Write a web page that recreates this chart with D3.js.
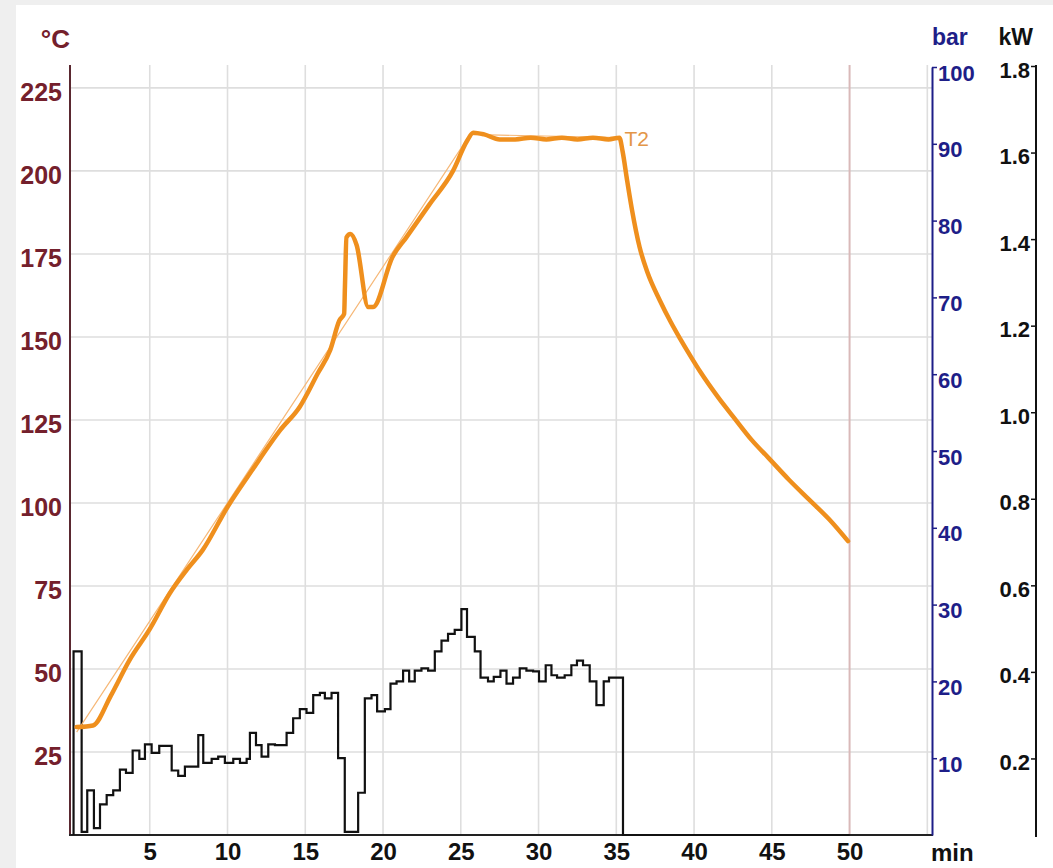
<!DOCTYPE html>
<html>
<head>
<meta charset="utf-8">
<script src="https://cdn.jsdelivr.net/npm/d3@7"></script>
<style>
  html, body { margin: 0; padding: 0; background: #efefef; }
  svg { display: block; }
  text { font-family: "Liberation Sans", Arial, sans-serif; font-weight: bold; }
</style>
</head>
<body>
<svg id="chart" width="1053" height="868"></svg>
<script>
// ---- tick values ----
const minuteTicks = [5, 10, 15, 20, 25, 30, 35, 40, 45, 50];
const minuteGrid = [5, 10, 15, 20, 25, 30, 35, 40, 45, 50, 55];
const tempTicks = [25, 50, 75, 100, 125, 150, 175, 200, 225];
const barTicks = [10, 20, 30, 40, 50, 60, 70, 80, 90, 100];
const kwTicks = [0.2, 0.4, 0.6, 0.8, 1.0, 1.2, 1.4, 1.6, 1.8];
const endMarkMinute = 50;

// ---- T2 temperature trace (min, °C) ----
const t2Minutes = [0.3, 1.35, 2.5, 3.7, 5.0, 6.3, 7.4, 8.4, 10.0, 11.6, 13.4, 14.65, 15.8, 16.6,
  17.2, 17.5, 17.55, 17.65, 17.9, 18.3, 19.05, 19.36, 20.6, 21.5, 23.0, 24.5, 25.4, 25.8,
  26.5, 27.5, 28.5, 29.5, 30.5, 31.5, 32.5, 33.5, 34.5, 35.2,
  35.4, 35.7, 36.0, 36.5, 37.0, 37.8, 38.5, 39.1, 39.8, 40.4, 41.6, 42.6, 43.7, 44.8, 46.1,
  47.4, 48.7, 49.9];
const t2Celsius = [32.5, 33, 42, 52.7, 62, 72.9, 80, 85.8, 98.8, 110, 122, 129, 139, 146,
  155, 157, 165, 180, 181, 177.7, 159, 159, 174, 180, 190, 200, 209, 211.5,
  211, 209.5, 209.5, 210, 209.5, 210, 209.5, 210, 209.5, 210,
  206, 197, 188.5, 177, 169.5, 161, 154.5, 149.5, 144, 139.5, 131.5, 125.5, 119, 113.5, 107,
  101, 95, 88.5];

// ---- programmed temperature ramp (min, °C) ----
const rampMinutes = [0.3, 25.6, 35.2];
const rampCelsius = [31, 211, 210];

// ---- stepped trace (min at start of each step, bar) ----
const stepMinutes = [0.1, 0.62, 0.98, 1.41, 1.80, 2.23, 2.65, 3.08, 3.47, 3.90, 4.33, 4.69, 5.12, 5.61,
  6.41, 6.83, 7.26, 8.12, 8.44, 8.98, 9.40, 9.83, 10.37, 10.80, 11.23, 11.44, 11.83, 12.19,
  12.62, 13.05, 13.80, 14.22, 14.65, 15.08, 15.51, 15.94, 16.26, 16.69, 17.11, 17.54, 18.40,
  18.83, 19.26, 19.62, 20.12, 20.48, 20.87, 21.29, 21.68, 22.04, 22.47, 22.90, 23.33, 23.76,
  24.18, 24.61, 25.04, 25.40, 25.90, 26.27, 26.75, 27.12, 27.55, 27.94, 28.36, 28.79, 29.22,
  29.65, 30.03, 30.46, 30.83, 31.19, 31.68, 32.11, 32.47, 32.86, 33.29, 33.72, 34.19, 34.53, 35.43];
const stepBar = [23.9, 0.4, 5.8, 0.9, 4.0, 5.2, 5.8, 8.5, 8.1, 11.0, 9.9, 11.8, 10.7, 11.6,
  8.4, 7.7, 8.9, 13.0, 9.4, 9.9, 10.2, 9.4, 9.9, 9.4, 9.9, 13.3, 11.7, 10.2,
  11.8, 11.7, 13.3, 15.2, 16.4, 15.9, 18.2, 18.5, 17.8, 18.5, 10.0, 0.4, 5.5,
  17.8, 18.2, 16.1, 16.4, 19.7, 20.0, 21.4, 20.0, 21.4, 21.7, 21.4, 23.9, 25.3,
  26.2, 26.7, 29.4, 25.8, 23.9, 20.5, 20.0, 20.6, 21.4, 19.7, 20.5, 21.7, 21.4,
  21.3, 20.0, 22.1, 20.8, 20.5, 20.8, 22.1, 22.7, 22.1, 20.0, 16.9, 20.0, 20.5, 0];
const stepEndMinute = 50;

// ---- colours ----
const maroon = "#74202c";
const navy = "#1e1e88";
const orange = "#ef8f1d";

const svg = d3.select("#chart");

// panel
svg.append("rect").attr("x", 16).attr("y", 5).attr("width", 1053 - 16).attr("height", 868 - 5)
  .attr("fill", "#ffffff");

// scales
const x = d3.scaleLinear().domain([0, 55.3]).range([72, 932]);
const yT = d3.scaleLinear().domain([0, 231.6]).range([835, 66]);
const yBar = d3.scaleLinear().domain([0, 100]).range([835, 67]);
const yKw = d3.scaleLinear().domain([0, 1.8]).range([845, 66]);

// grid
const grid = svg.append("g");
grid.selectAll("line.h").data(tempTicks).join("line")
  .attr("x1", 70).attr("x2", 932)
  .attr("y1", d => yT(d)).attr("y2", d => yT(d))
  .attr("stroke", "#dedede").attr("stroke-width", 1.6);
grid.selectAll("line.v").data(minuteGrid).join("line")
  .attr("x1", d => x(d)).attr("x2", d => x(d))
  .attr("y1", 65).attr("y2", 835)
  .attr("stroke", d => d === endMarkMinute ? "#d9b9b9" : "#dedede")
  .attr("stroke-width", d => d === endMarkMinute ? 2 : 1.6);

// left axis (°C)
const leftAxis = svg.append("g").attr("transform", "translate(70,0)")
  .call(d3.axisLeft(yT).tickValues(tempTicks).tickSize(0).tickSizeOuter(0).tickPadding(8));
leftAxis.select(".domain").remove();
leftAxis.selectAll("text").attr("dy", null).attr("y", 13)
  .attr("fill", maroon).style("font-size", "25px");
svg.append("line").attr("x1", 70).attr("x2", 70).attr("y1", 65).attr("y2", 836)
  .attr("stroke", "#5a2830").attr("stroke-width", 2);

// bottom axis (min)
const bottomAxis = svg.append("g").attr("transform", "translate(0,835)")
  .call(d3.axisBottom(x).tickValues(minuteTicks).tickSize(0).tickSizeOuter(0));
bottomAxis.select(".domain").remove();
bottomAxis.selectAll("text").attr("dy", null).attr("y", 25)
  .attr("fill", "#111").style("font-size", "24px");
svg.append("line").attr("x1", 69).attr("x2", 933).attr("y1", 835).attr("y2", 835)
  .attr("stroke", "#222").attr("stroke-width", 2);

// right axis (bar)
const barAxis = svg.append("g").attr("transform", "translate(932,0)")
  .call(d3.axisRight(yBar).tickValues(barTicks).tickSize(5).tickSizeOuter(0).tickPadding(1));
barAxis.select(".domain").attr("stroke", navy).attr("stroke-width", 2);
barAxis.selectAll(".tick line").attr("stroke", navy).attr("stroke-width", 1.5);
barAxis.selectAll("text").attr("dy", null).attr("y", 13)
  .attr("fill", navy).style("font-size", "22px");

// far right axis (kW)
const kwAxis = svg.append("g").attr("transform", "translate(1036,0)")
  .call(d3.axisLeft(yKw).tickValues(kwTicks).tickSize(5).tickSizeOuter(0).tickPadding(1)
    .tickFormat(d3.format(".1f")));
kwAxis.select(".domain").remove();
kwAxis.selectAll(".tick line").attr("stroke", "#111").attr("stroke-width", 1.5);
kwAxis.selectAll("text").attr("dy", null).attr("y", 11)
  .attr("fill", "#111").style("font-size", "22px");
svg.append("line").attr("x1", 1036).attr("x2", 1036).attr("y1", 65).attr("y2", 837)
  .attr("stroke", "#111").attr("stroke-width", 2);

// unit labels
svg.append("text").attr("x", 70).attr("y", 48).attr("text-anchor", "end")
  .attr("fill", maroon).style("font-size", "26px").text("°C");
svg.append("text").attr("x", 932).attr("y", 45)
  .attr("fill", navy).style("font-size", "23px").text("bar");
svg.append("text").attr("x", 1033).attr("y", 45).attr("text-anchor", "end")
  .attr("fill", "#111").style("font-size", "23px").text("kW");
svg.append("text").attr("x", 931).attr("y", 861)
  .attr("fill", "#111").style("font-size", "24px").text("min");

// stepped trace
const stepPoints = [[stepMinutes[0], 0]]
  .concat(stepMinutes.map((m, i) => [m, stepBar[i]]))
  .concat([[stepEndMinute, 0]]);
svg.append("path").datum(stepPoints)
  .attr("d", d3.line().x(d => x(d[0])).y(d => yBar(d[1])).curve(d3.curveStepAfter))
  .attr("fill", "none").attr("stroke", "#111").attr("stroke-width", 2.2);

// programmed ramp
const rampPoints = rampMinutes.map((m, i) => [m, rampCelsius[i]]);
svg.append("path").datum(rampPoints)
  .attr("d", d3.line().x(d => x(d[0])).y(d => yT(d[1])))
  .attr("fill", "none").attr("stroke", "#f6b878").attr("stroke-width", 1.2);

// T2 trace
const t2Points = t2Minutes.map((m, i) => [m, t2Celsius[i]]);
svg.append("path").datum(t2Points)
  .attr("d", d3.line().x(d => x(d[0])).y(d => yT(d[1])).curve(d3.curveMonotoneX))
  .attr("fill", "none").attr("stroke", orange).attr("stroke-width", 4.5)
  .attr("stroke-linejoin", "round").attr("stroke-linecap", "round");

// series label at the end of the plateau
const labelIdx = t2Minutes.indexOf(35.2);
svg.append("text")
  .attr("x", x(t2Minutes[labelIdx]) + 5).attr("y", yT(t2Celsius[labelIdx]) + 8)
  .attr("fill", "#e39648").style("font-weight", "normal").style("font-size", "21px")
  .text("T2");
</script>
</body>
</html>
